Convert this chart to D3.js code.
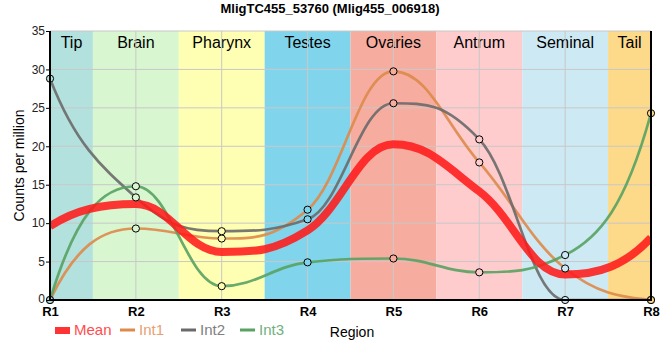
<!DOCTYPE html>
<html><head><meta charset="utf-8">
<script src="https://cdn.jsdelivr.net/npm/d3@7"></script>
<style>body{margin:0;background:#fff}svg{display:block}text{font-family:"Liberation Sans Narrow","Arial Narrow","Liberation Sans",sans-serif}</style>
</head><body><svg id="c" width="660" height="360"></svg>
<script>
const categories = ["R1","R2","R3","R4","R5","R6","R7","R8"];
const regions = ["Tip","Brain","Pharynx","Testes","Ovaries","Antrum","Seminal","Tail"];
const regionColors = ["#b3e1dd","#d8f6d0","#ffffb3","#80d5ec","#f6ada0","#ffcccd","#cdeaf4","#fdd98a"];
const int1 = [0, 9.3, 8.0, 11.75, 29.75, 17.9, 4.1, 0];
const int2 = [28.8, 13.35, 8.95, 10.5, 25.6, 20.9, 0, 0];
const int3 = [0, 14.8, 1.8, 4.9, 5.4, 3.6, 5.85, 24.3];
const mean = [9.6, 12.48, 6.25, 9.05, 20.25, 14.13, 3.32, 8.1];
const yTicks = [0,5,10,15,20,25,30,35];

const svg = d3.select("#c");
const L=50, R=651, T=31, B=300;
const x = d3.scalePoint().domain(categories).range([L,R]);
const y = d3.scaleLinear().domain([0,35]).range([B,T]);
const step = x.step();

svg.append("defs").append("clipPath").attr("id","clip").append("rect")
  .attr("x",L).attr("y",T-5).attr("width",R-L).attr("height",B-T+5);

regions.forEach((r,i)=>{
  const cx = x(categories[i]);
  const x0 = Math.max(L, cx-step/2), x1 = Math.min(R, cx+step/2);
  svg.append("rect").attr("x",x0).attr("y",T).attr("width",x1-x0).attr("height",B-T).attr("fill",regionColors[i]);
  svg.append("text").attr("x",(x0+x1)/2).attr("y",T+17).attr("text-anchor","middle")
    .attr("font-size",16).attr("fill","#000").text(r);
});
svg.append("g").selectAll("line").data(yTicks).join("line")
  .attr("x1",L).attr("x2",R).attr("y1",d=>y(d)).attr("y2",d=>y(d)).attr("stroke","#c8c8c8").attr("stroke-width",1);
svg.append("g").selectAll("line").data(categories).join("line")
  .attr("x1",d=>x(d)).attr("x2",d=>x(d)).attr("y1",T).attr("y2",B).attr("stroke","#c8c8c8").attr("stroke-width",1);

// spline: control points clamped between neighbours (no false extremes)
function splinePath(vals){
  const pts = vals.map((v,i)=>[x(categories[i]), y(v)]);
  const n = pts.length, sm = 1.5, den = sm + 1;
  const lc = [], rc = [];
  for (let i=1;i<n-1;i++){
    const [px,py] = pts[i], [lx,ly] = pts[i-1], [nx,ny] = pts[i+1];
    let lcx=(sm*px+lx)/den, lcy=(sm*py+ly)/den, rcx=(sm*px+nx)/den, rcy=(sm*py+ny)/den;
    const corr = ((rcy-lcy)*(rcx-px))/(rcx-lcx) + py - rcy;
    lcy += corr; rcy += corr;
    if (lcy>ly && lcy>py){ lcy=Math.max(ly,py); rcy=2*py-lcy; }
    else if (lcy<ly && lcy<py){ lcy=Math.min(ly,py); rcy=2*py-lcy; }
    if (rcy>ny && rcy>py){ rcy=Math.max(ny,py); lcy=2*py-rcy; }
    else if (rcy<ny && rcy<py){ rcy=Math.min(ny,py); lcy=2*py-rcy; }
    lc[i]=[lcx,lcy]; rc[i]=[rcx,rcy];
  }
  const k = 0.75, e = 0.3*step;
  rc[0] = [pts[0][0]+e, pts[0][1] + k*(lc[1][1]-pts[0][1])];
  lc[n-1] = [pts[n-1][0]-e, pts[n-1][1] + k*(rc[n-2][1]-pts[n-1][1])];
  const p = d3.path();
  p.moveTo(pts[0][0], pts[0][1]);
  for (let i=1;i<n;i++){
    p.bezierCurveTo(rc[i-1][0],rc[i-1][1],lc[i][0],lc[i][1],pts[i][0],pts[i][1]);
  }
  return p.toString();
}

const series = [
  {name:"Int1", data:int1, color:"#de8a4a", text:"#e8a070"},
  {name:"Int2", data:int2, color:"#6a6a6a", text:"#808080"},
  {name:"Int3", data:int3, color:"#58a262", text:"#70b07c"},
];
const g = svg.append("g").attr("clip-path","url(#clip)");
series.forEach(s=>{
  g.append("path").attr("d",splinePath(s.data)).attr("fill","none").attr("stroke",s.color).attr("stroke-width",2.7).attr("stroke-opacity",0.9);
});
g.append("path").attr("d",splinePath(mean)).attr("fill","none").attr("stroke","#ff1a1a").attr("stroke-width",8).attr("stroke-opacity",0.88);
const gm = svg.append("g");
series.forEach(s=>{
  gm.selectAll(null).data(s.data).join("circle")
    .attr("cx",(d,i)=>x(categories[i])).attr("cy",d=>y(d)).attr("r",3.6)
    .attr("fill",(d,i)=>regionColors[i]).attr("stroke","#000").attr("stroke-width",1);
});

const ya = svg.append("g").attr("transform",`translate(${L},0)`).call(d3.axisLeft(y).tickValues(yTicks).tickSize(4).tickPadding(1));
ya.select(".domain").remove();
ya.selectAll("text").attr("font-size",12).attr("fill","#222").style("font-family",'"Liberation Sans Narrow","Arial Narrow",sans-serif');
ya.selectAll("text").filter(d=>d===0).attr("dy","0.2em");
const xa = svg.append("g").attr("transform",`translate(0,${B})`).call(d3.axisBottom(x).tickSize(0).tickPadding(7));
xa.select(".domain").remove();
xa.selectAll("text").attr("font-size",13).attr("font-weight","bold").attr("fill","#000").style("font-family",'"Liberation Sans Narrow","Arial Narrow",sans-serif');
svg.append("line").attr("x1",L).attr("x2",L).attr("y1",T).attr("y2",B+1).attr("stroke","#000").attr("stroke-width",2);
svg.append("line").attr("x1",R).attr("x2",R).attr("y1",T).attr("y2",B+1).attr("stroke","#000").attr("stroke-width",2);
svg.append("line").attr("x1",L-1).attr("x2",R+1).attr("y1",B).attr("y2",B).attr("stroke","#000").attr("stroke-width",2);

svg.append("text").attr("x",330).attr("y",13).attr("text-anchor","middle").attr("font-size",13).attr("font-weight","bold").text("MligTC455_53760 (Mlig455_006918)");
svg.append("text").attr("transform",`translate(24,${(T+B)/2}) rotate(-90)`).attr("text-anchor","middle").attr("font-size",14).style("font-family",'"Liberation Sans","Arial",sans-serif').text("Counts per million");
svg.append("text").attr("x",352).attr("y",337).attr("text-anchor","middle").attr("font-size",14).text("Region");

const lg = svg.append("g");
lg.append("rect").attr("x",55).attr("y",327).attr("width",15).attr("height",7).attr("fill","#ff3333");
lg.append("text").attr("x",74).attr("y",335).attr("font-size",15).attr("fill","#ff4d4d").text("Mean");
const lx = [120,181,240];
series.forEach((s,i)=>{
  lg.append("line").attr("x1",lx[i]).attr("x2",lx[i]+15).attr("y1",330).attr("y2",330).attr("stroke",s.color).attr("stroke-width",3);
  lg.append("text").attr("x",lx[i]+19).attr("y",335).attr("font-size",15).attr("fill",s.text).text(s.name);
});
</script></body></html>
